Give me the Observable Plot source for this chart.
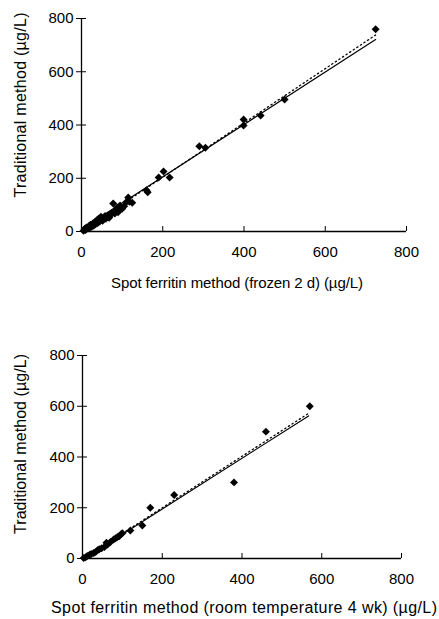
<!DOCTYPE html>
<html>
<head>
<meta charset="utf-8">
<script src="https://cdn.jsdelivr.net/npm/d3@7"></script>
<script src="https://cdn.jsdelivr.net/npm/@observablehq/plot@0.6"></script>
<style>
  html, body { margin: 0; padding: 0; background: #fff; }
  #chart { width: 439px; }
  svg { display: block; }
</style>
</head>
<body>
<div id="chart"></div>
<script>
// ---- data ----
const axisTicks = [0, 200, 400, 600, 800];

// Panel A: frozen 2 d
const frozenSpot = [5, 8, 10, 12, 15, 18, 20, 22, 25, 28, 30, 32, 35, 38, 40, 42, 45, 48, 50, 52, 55, 58, 60, 62, 65, 68, 70, 72, 75, 78, 80, 82, 85, 88, 90, 95, 100, 105, 110, 115, 118, 125, 160, 163, 190, 202, 217, 290, 305, 399, 399, 441, 500, 724];
const frozenTrad = [3, 10, 6, 15, 12, 20, 14, 25, 18, 30, 22, 35, 28, 42, 32, 48, 38, 55, 45, 40, 50, 58, 48, 55, 60, 52, 65, 62, 70, 105, 75, 68, 80, 90, 72, 98, 85, 95, 110, 128, 112, 108, 155, 147, 203, 225, 203, 320, 315, 421, 398, 436, 496, 760];
const frozenFitX = [0, 724];
const frozenSolidY = [8, 721];
const frozenDottedY = [0, 738];

// Panel B: room temperature 4 wk
const roomSpot = [3, 8, 12, 18, 22, 28, 33, 38, 42, 48, 55, 60, 63, 70, 78, 83, 88, 92, 98, 100, 120, 150, 170, 230, 380, 460, 570];
const roomTrad = [2, 5, 10, 15, 18, 22, 26, 33, 36, 40, 45, 62, 55, 65, 75, 80, 85, 88, 98, 100, 110, 130, 200, 250, 300, 500, 600];
const roomFitX = [0, 567];
const roomSolidY = [-5, 562];
const roomDottedY = [-3, 572];

const yLabel = "Traditional method (µg/L)";
const xLabelA = "Spot ferritin method (frozen 2 d) (µg/L)";
const xLabelB = "Spot ferritin method (room temperature 4 wk) (µg/L)";

// ---- chart ----
const FONT = "'Liberation Sans', Arial, Helvetica, sans-serif";

function panel(spot, trad, fitX, solidY, dottedY, xLabel, d) {
  const pts = spot.map((x, i) => ({x, y: trad[i]}));
  const solid = fitX.map((x, i) => ({x, y: solidY[i]}));
  const dotted = fitX.map((x, i) => ({x, y: dottedY[i]}));
  const svg = Plot.plot({
    width: 439,
    height: d.height,
    marginLeft: d.ml,
    marginRight: d.mr,
    marginTop: d.mt,
    marginBottom: d.mb,
    style: {fontFamily: FONT, fontSize: "15px", color: "#000", background: "#fff"},
    x: {domain: [0, 800]},
    y: {domain: [0, 800]},
    marks: [
      Plot.ruleX([0], {stroke: "#000", strokeWidth: 1.3}),
      Plot.ruleY([0], {stroke: "#000", strokeWidth: 1.3}),
      Plot.axisY({ticks: axisTicks, tickSize: 5, tickPadding: 3, tickFormat: d3.format("d"), label: null, fontSize: 15}),
      Plot.axisY({ticks: axisTicks, tickSize: -5, tickFormat: () => "", label: null}),
      Plot.axisX({ticks: axisTicks, tickSize: 0, tickPadding: 15, tickFormat: d3.format("d"), label: null, fontSize: 15}),
      Plot.axisX({ticks: axisTicks, tickSize: -5, tickFormat: () => "", label: null}),
      Plot.text([yLabel], {frameAnchor: "left", rotate: -90, dx: d.ydx, dy: d.ydy, fontSize: d.yfs,
        textAnchor: "middle", lineAnchor: "middle", fill: "#000"}),
      Plot.text([xLabel], {frameAnchor: "bottom", dx: d.xdx, dy: d.xdy, fontSize: d.xfs,
        textAnchor: "middle", lineAnchor: "middle", fill: "#000"}),
      Plot.line(dotted, {x: "x", y: "y", stroke: "#000", strokeWidth: 1.3, strokeDasharray: "1.3,3"}),
      Plot.line(solid, {x: "x", y: "y", stroke: "#000", strokeWidth: 1.2}),
      Plot.dot(pts, {x: "x", y: "y", symbol: "diamond2", r: 3.6, fill: "#000", stroke: "none"})
    ]
  });
  // stretch label spacing to match the original typesetting
  d3.select(svg).selectAll('g[aria-label="text"] text').each(function() {
    const t = this.textContent;
    if (t === yLabel) { this.setAttribute("textLength", d.ylen); this.setAttribute("lengthAdjust", "spacing"); }
    if (t === xLabel) { this.setAttribute("textLength", d.xlen); this.setAttribute("lengthAdjust", "spacing"); }
  });
  return svg;
}

const chart = document.getElementById("chart");
chart.append(panel(frozenSpot, frozenTrad, frozenFitX, frozenSolidY, frozenDottedY, xLabelA,
  {height: 300, ml: 81, mr: 33, mt: 18, mb: 69,
   ydx: -61, ydy: -20, yfs: 16, ylen: 185,
   xdx: -7, xdy: 52, xfs: 15, xlen: 252}));
chart.append(panel(roomSpot, roomTrad, roomFitX, roomSolidY, roomDottedY, xLabelB,
  {height: 319, ml: 82, mr: 38, mt: 55, mb: 61,
   ydx: -62, ydy: -13, yfs: 16, ylen: 180,
   xdx: 2, xdy: 49, xfs: 16, xlen: 386}));
</script>
</body>
</html>
